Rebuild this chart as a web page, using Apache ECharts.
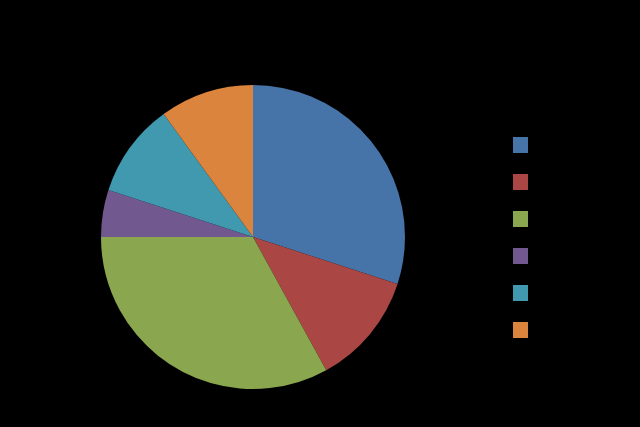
<!DOCTYPE html>
<html>
<head>
<meta charset="utf-8">
<style>html,body{margin:0;padding:0;background:#000;}#c{width:640px;height:427px;}</style>
<script src="https://cdn.jsdelivr.net/npm/echarts@6/dist/echarts.min.js"></script>
</head>
<body>
<div id="c"></div>
<script>
const categories = ["Category 1", "Category 2", "Category 3", "Category 4", "Category 5", "Category 6"];
const values = [30, 12, 33, 5, 10, 10];
const colors = ["#4673A8", "#AA4744", "#8AA64F", "#71588F", "#4199B0", "#DB843D"];

const chart = echarts.init(document.getElementById('c'), null, {renderer: 'canvas'});
chart.setOption({
  backgroundColor: '#000000',
  animation: false,
  color: colors,
  legend: {
    orient: 'vertical',
    left: 513,
    top: 137,
    padding: 0,
    itemWidth: 15,
    itemHeight: 16,
    itemGap: 21,
    icon: 'rect',
    textStyle: {color: '#000000', fontSize: 12, fontFamily: 'Liberation Sans'},
    data: categories
  },
  series: [{
    type: 'pie',
    center: [253, 237],
    radius: 152,
    startAngle: 90,
    clockwise: true,
    label: {show: false},
    labelLine: {show: false},
    itemStyle: {borderWidth: 0},
    emphasis: {disabled: true},
    data: categories.map((n, i) => ({name: n, value: values[i]}))
  }]
});
</script>
</body>
</html>
